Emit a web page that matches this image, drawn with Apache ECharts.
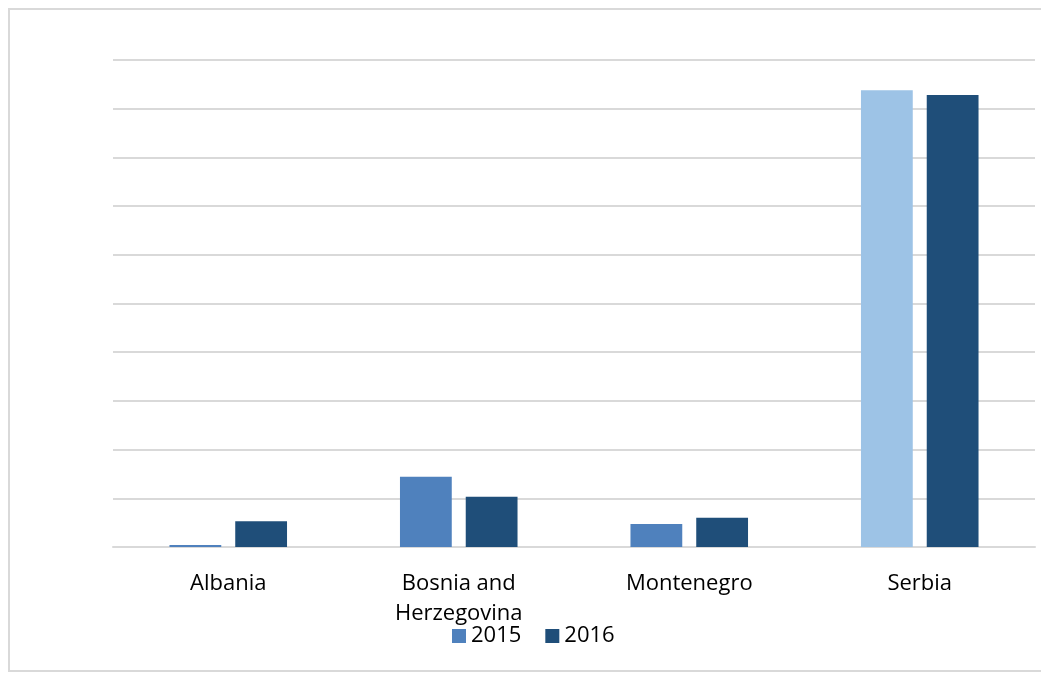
<!DOCTYPE html>
<html>
<head>
<meta charset="utf-8">
<script src="https://cdn.jsdelivr.net/npm/echarts@6/dist/echarts.min.js"></script>
<style>
  html, body { margin: 0; padding: 0; background: #fff; }
  #main { width: 1041px; height: 673px; }
</style>
</head>
<body>
<div id="main"></div>
<script>
var categories = ['Albania', 'Bosnia and\nHerzegovina', 'Montenegro', 'Serbia']
var values2015 = [0.04, 1.44, 0.47, 9.38]
var values2016 = [0.53, 1.03, 0.60, 9.28]
var color2015 = '#4F81BD'
var color2015Serbia = '#9DC3E6'
var color2016 = '#1F4E79'

var myChart = echarts.init(document.getElementById('main'))

myChart.setOption({
  animation: false,
  graphic: [{
    type: 'rect',
    shape: { x: 9, y: 9, width: 1100, height: 662 },
    style: { fill: 'none', stroke: '#d9d9d9', lineWidth: 2 },
    silent: true
  }],
  grid: { left: 113, right: 6, top: 60, bottom: 126 },
  legend: {
    left: 447, top: 620,
    itemWidth: 14, itemHeight: 14, itemGap: 24,
    icon: 'rect',
    textStyle: { fontFamily: 'Open Sans', fontSize: 22, color: '#000' },
    data: [
      { name: '2015', itemStyle: { color: color2015 } },
      { name: '2016', itemStyle: { color: color2016 } }
    ]
  },
  xAxis: {
    type: 'category',
    data: categories,
    axisLine: { lineStyle: { color: '#d9d9d9', width: 2 } },
    axisTick: { show: false },
    axisLabel: {
      fontFamily: 'Open Sans', fontSize: 22, color: '#000',
      margin: 22, lineHeight: 30
    }
  },
  yAxis: {
    type: 'value',
    min: 0, max: 10, interval: 1,
    axisLabel: { show: false },
    axisLine: { show: false },
    axisTick: { show: false },
    splitLine: { lineStyle: { color: '#d9d9d9', width: 2 } }
  },
  series: [
    {
      name: '2015',
      type: 'bar',
      barGap: '27%',
      barCategoryGap: '49%',
      itemStyle: { color: color2015 },
      data: values2015.map(function (v, i) {
        return i === 3 ? { value: v, itemStyle: { color: color2015Serbia } } : v
      })
    },
    {
      name: '2016',
      type: 'bar',
      itemStyle: { color: color2016 },
      data: values2016
    }
  ]
})
</script>
</body>
</html>
